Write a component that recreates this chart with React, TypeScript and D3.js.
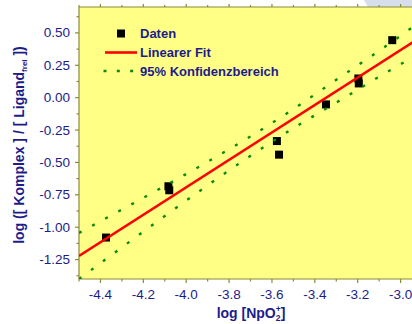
import React from 'react';
import * as d3 from 'd3';

const dataX = [-4.374, -4.083, -4.079, -3.577, -3.567, -3.348, -3.197, -3.195, -3.039];
const dataY = [-1.08, -0.684, -0.715, -0.335, -0.44, -0.052, 0.148, 0.11, 0.444];

// linear fit end points
const fitX = [-4.5, -2.9];
const fitY = [-1.222, 0.474];

// 95% confidence band
const bandX = [-4.5, -4.3, -4.1, -3.9, -3.7, -3.5, -3.3, -3.1, -2.9];
const bandUpper = [-1.044, -0.864, -0.682, -0.495, -0.299, -0.088, 0.138, 0.362, 0.596];
const bandLower = [-1.4, -1.156, -0.914, -0.677, -0.449, -0.236, -0.038, 0.162, 0.352];

const xTicks = [-4.4, -4.2, -4.0, -3.8, -3.6, -3.4, -3.2, -3.0];
const yTicks = [0.5, 0.25, 0, -0.25, -0.5, -0.75, -1.0, -1.25];

const legendItems = ['Daten', 'Linearer Fit', '95% Konfidenzbereich'];

const width = 412;
const height = 324;
const left = 79;
const top = 7;
const bottom = 279;

const navy = '#1c1c8a';
const frame = '#8a8a3a';
const font = 'Liberation Sans, Arial, sans-serif';

const App: React.FC = () => {
  const x = d3.scaleLinear().domain([-4.5, -3.0]).range([left, 400.6]);
  const y = d3.scaleLinear().domain([-1.4, 0.7]).range([bottom, top]);

  const line = d3.line<[number, number]>()
    .x(d => x(d[0]))
    .y(d => y(d[1]));
  const curve = d3.line<[number, number]>()
    .x(d => x(d[0]))
    .y(d => y(d[1]))
    .curve(d3.curveNatural);

  const fitPts = fitX.map((v, i) => [v, fitY[i]] as [number, number]);
  const upPts = bandX.map((v, i) => [v, bandUpper[i]] as [number, number]);
  const loPts = bandX.map((v, i) => [v, bandLower[i]] as [number, number]);

  const minorX = d3.range(-4.5, -2.85, 0.1).map(v => +v.toFixed(2));
  const minorY = d3.range(-1.375, 0.7, 0.125);

  const xMax = x.invert(width + 2);

  return (
    <svg width={width} height={height} style={{ position: 'absolute', left: 0, top: 0, background: '#fff' }}>
      <defs>
        <clipPath id="plot">
          <rect x={left} y={top} width={width - left + 5} height={bottom - top} />
        </clipPath>
      </defs>
      {/* bit of the slide behind */}
      <path d={`M364,0 L${width},0 L${width},${top} L368,${top} Z`} fill="#d6dfeb" />
      <rect x={left} y={top} width={width - left + 5} height={bottom - top} fill="#ffff86" />

      {/* frame */}
      <line x1={left} x2={left} y1={top} y2={bottom} stroke={frame} strokeWidth={1.2} />
      <line x1={left} x2={width} y1={bottom} y2={bottom} stroke={frame} strokeWidth={1.2} />
      <line x1={left} x2={width} y1={top} y2={top} stroke={frame} strokeWidth={1.2} />

      {/* x ticks */}
      {minorX.filter(v => v <= xMax).map(v => {
        const major = xTicks.some(t => Math.abs(t - v) < 1e-6);
        return (
          <g key={'xt' + v}>
            <line x1={x(v)} x2={x(v)} y1={bottom} y2={bottom + (major ? 4 : 2.5)} stroke={frame} strokeWidth={1.2} />
            <line x1={x(v)} x2={x(v)} y1={top} y2={top - (major ? 3 : 2)} stroke={frame} strokeWidth={1.2} />
          </g>
        );
      })}
      {xTicks.map(v => (
        <text key={'xl' + v} x={x(v)} y={299} textAnchor="middle" fontFamily={font} fontSize={13.5} fill={navy}>
          {v.toFixed(1)}
        </text>
      ))}

      {/* y ticks */}
      {minorY.map(v => {
        const major = yTicks.some(t => Math.abs(t - v) < 1e-6);
        return (
          <line key={'yt' + v} x1={left} x2={left - (major ? 4 : 2.5)} y1={y(v)} y2={y(v)} stroke={frame} strokeWidth={1.2} />
        );
      })}
      {yTicks.map(v => (
        <text key={'yl' + v} x={70} y={y(v) + 4.5} textAnchor="end" fontFamily={font} fontSize={13.5} fill={navy}>
          {v.toFixed(2)}
        </text>
      ))}

      <g clipPath="url(#plot)">
        {dataX.map((v, i) => (
          <rect key={'p' + i} x={x(v) - 4} y={y(dataY[i]) - 4} width={8} height={8} fill="#000" />
        ))}
        <path d={line(fitPts) ?? ''} fill="none" stroke="#ff0000" strokeWidth={2.6} />
        <path d={curve(upPts) ?? ''} fill="none" stroke="#0a8a0a" strokeWidth={2.4} strokeDasharray="3 11.9" />
        <path d={curve(loPts) ?? ''} fill="none" stroke="#0a8a0a" strokeWidth={2.4} strokeDasharray="3 11.9" />
      </g>

      {/* legend */}
      <g fontFamily={font} fontSize={13} fontWeight="bold" fill={navy}>
        <rect x={117} y={29.5} width={8} height={8} fill="#000" />
        <line x1={105} x2={137} y1={52.5} y2={52.5} stroke="#ff0000" strokeWidth={2.6} />
        <line x1={103.5} x2={138} y1={71} y2={71} stroke="#0a8a0a" strokeWidth={2.4} strokeDasharray="3 10.3" />
        {legendItems.map((t, i) => (
          <text key={t} x={140} y={38 + i * 19}>{t}</text>
        ))}
      </g>

      {/* axis titles */}
      <text x={251} y={318} textAnchor="middle" fontFamily={font} fontSize={14} fontWeight="bold" fill={navy}>
        log [NpO<tspan fontSize={8.5} dy={3}>2</tspan><tspan fontSize={8.5} dx={-4.8} dy={-9.5}>+</tspan><tspan dy={6.5}>]</tspan>
      </text>
      <text transform="translate(24,145) rotate(-90)" textAnchor="middle" fontFamily={font} fontSize={14} fontWeight="bold" fill={navy}>
        log ([ Komplex ] / [ Ligand<tspan fontSize={8} dy={3}>frei</tspan><tspan dy={-3}> ])</tspan>
      </text>
    </svg>
  );
};

export default App;
